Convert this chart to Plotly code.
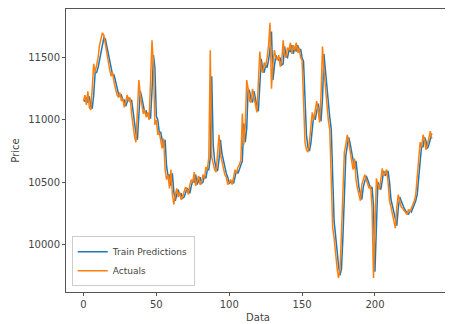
import plotly.graph_objects as go

actuals = [
    11150, 11200, 11120, 11230, 11100, 11080, 11250, 11450, 11380, 11430,
    11500, 11600, 11650, 11700, 11680, 11600, 11550, 11470, 11400, 11350,
    11380, 11300, 11250, 11200, 11180, 11220, 11150, 11170, 11100, 11140,
    11200, 11150, 11180, 11050, 10950, 10870, 10820, 11050, 11320, 11200,
    11100, 11050, 11080, 11020, 11060, 11000, 11300, 11640, 11450, 10960,
    11000, 10880, 10900, 10820, 10770, 10850, 10600, 10520, 10560, 10450,
    10600, 10400, 10320, 10400, 10450, 10380, 10420, 10360, 10380, 10420,
    10460, 10440, 10400, 10480, 10520, 10500, 10580, 10470, 10510, 10550,
    10480, 10500, 10560, 10530, 10620, 10600, 10700, 11560, 10700, 10650,
    10600, 10580, 10700, 10880, 10720, 10660, 10600, 10560, 10540, 10480,
    10500, 10520, 10480, 10550, 10600, 10570, 10620, 10640, 10680, 11050,
    10800, 10950, 11320, 11250, 11150, 11140, 11250, 11180, 11100, 11060,
    11300, 11550, 11400, 11380, 11460, 11430, 11500, 11600, 11780, 11250,
    11450, 11560, 11500, 11480, 11520, 11430, 11460, 11640, 11520, 11500,
    11580, 11560, 11620, 11530, 11600, 11560, 11620, 11540, 11580, 11500,
    11480, 11200, 10820, 10760, 10740, 10820, 10950, 11060, 11000, 11100,
    11150, 11080, 10980, 11200, 11590, 11400, 11250, 11150, 11000, 10920,
    10500, 10130, 10050, 9900, 9810, 9730, 9790, 10080, 10500, 10740,
    10800, 10880, 10820, 10750, 10690, 10600, 10690, 10520, 10450, 10400,
    10350, 10480, 10520, 10560, 10520, 10490, 10450, 10470, 10300, 9730,
    10200, 10530, 10480, 10440, 10520, 10610, 10550, 10580, 10600, 10500,
    10350, 10300, 10250, 10200, 10130, 10300, 10400, 10350, 10300, 10290,
    10270, 10250, 10240, 10280, 10260, 10290, 10320, 10350, 10400, 10550,
    10700, 10820, 10780, 10880, 10840, 10760, 10800, 10850, 10910, 10850,
]

train_predictions = [
    11160, 11150, 11180, 11140, 11190, 11110, 11090, 11200, 11380, 11380,
    11420, 11480, 11560, 11620, 11660, 11650, 11590, 11540, 11460, 11400,
    11360, 11360, 11300, 11250, 11210, 11190, 11200, 11160, 11160, 11110,
    11140, 11180, 11150, 11160, 11070, 10970, 10890, 10840, 11000, 11230,
    11180, 11110, 11060, 11070, 11030, 11050, 11010, 11230, 11520, 11420,
    11030, 11000, 10900, 10900, 10830, 10780, 10840, 10630, 10550, 10560,
    10470, 10570, 10420, 10350, 10400, 10440, 10390, 10410, 10370, 10380,
    10410, 10450, 10440, 10410, 10470, 10510, 10500, 10560, 10480, 10510,
    10540, 10490, 10500, 10550, 10530, 10600, 10600, 10690, 11350, 10800,
    10670, 10610, 10590, 10680, 10840, 10730, 10670, 10610, 10570, 10540,
    10490, 10500, 10510, 10490, 10540, 10590, 10570, 10610, 10630, 10670,
    10970, 10820, 10930, 11250, 11230, 11160, 11140, 11230, 11170, 11100,
    11070, 11260, 11490, 11400, 11380, 11440, 11420, 11480, 11570, 11710,
    11320, 11430, 11520, 11490, 11480, 11500, 11440, 11450, 11590, 11510,
    11500, 11560, 11550, 11600, 11530, 11580, 11550, 11600, 11540, 11570,
    11500, 11470, 11230, 10880, 10780, 10750, 10810, 10930, 11040, 11000,
    11080, 11130, 11070, 10990, 11170, 11530, 11400, 11260, 11160, 11020,
    10930, 10540, 10180, 10070, 9920, 9830, 9750, 9800, 10050, 10460,
    10710, 10790, 10860, 10810, 10750, 10690, 10610, 10670, 10530, 10460,
    10410, 10360, 10460, 10510, 10550, 10520, 10490, 10450, 10460, 10310,
    9780, 10170, 10500, 10470, 10440, 10510, 10590, 10550, 10570, 10590,
    10500, 10360, 10310, 10260, 10210, 10150, 10290, 10380, 10350, 10310,
    10290, 10270, 10250, 10240, 10270, 10260, 10290, 10320, 10350, 10400,
    10530, 10680, 10790, 10780, 10860, 10830, 10770, 10800, 10840, 10890,
]

x_ticks = [0, 50, 100, 150, 200, 250]
y_ticks = [10000, 10500, 11000, 11500]

idx = list(range(len(actuals)))

fig = go.Figure()
fig.add_trace(go.Scatter(x=idx, y=train_predictions, mode="lines",
                         name="Train Predictions",
                         line=dict(color="#1f77b4", width=1.5)))
fig.add_trace(go.Scatter(x=idx, y=actuals, mode="lines", name="Actuals",
                         line=dict(color="#ff7f0e", width=1.5)))

axis_common = dict(showline=True, linecolor="#555", linewidth=1, mirror=True,
                   ticks="outside", ticklen=3, tickcolor="#555",
                   showgrid=False, zeroline=False, automargin=False,
                   tickfont=dict(family="DejaVu Sans", size=10, color="#444"))

fig.update_layout(
    width=445, height=316,
    margin=dict(l=58, r=3, t=1, b=32),
    paper_bgcolor="white", plot_bgcolor="white",
    font=dict(family="DejaVu Sans", size=10, color="#444"),
    showlegend=True,
    legend=dict(x=0.015, y=0.02, xanchor="left", yanchor="bottom",
                bordercolor="#ccc", borderwidth=1, bgcolor="rgba(255,255,255,0.8)",
                font=dict(size=9), tracegroupgap=0, itemwidth=30),
    xaxis=dict(range=[-12, 251.5], tickvals=x_ticks,
               ticktext=[str(v) for v in x_ticks],
               title=dict(text="Data", standoff=4, font=dict(size=10)),
               **axis_common),
    yaxis=dict(range=[9617, 11891], tickvals=y_ticks,
               ticktext=[str(v) for v in y_ticks],
               title=dict(text="Price", standoff=6, font=dict(size=10)),
               **axis_common),
)

fig.write_html("out.html")
